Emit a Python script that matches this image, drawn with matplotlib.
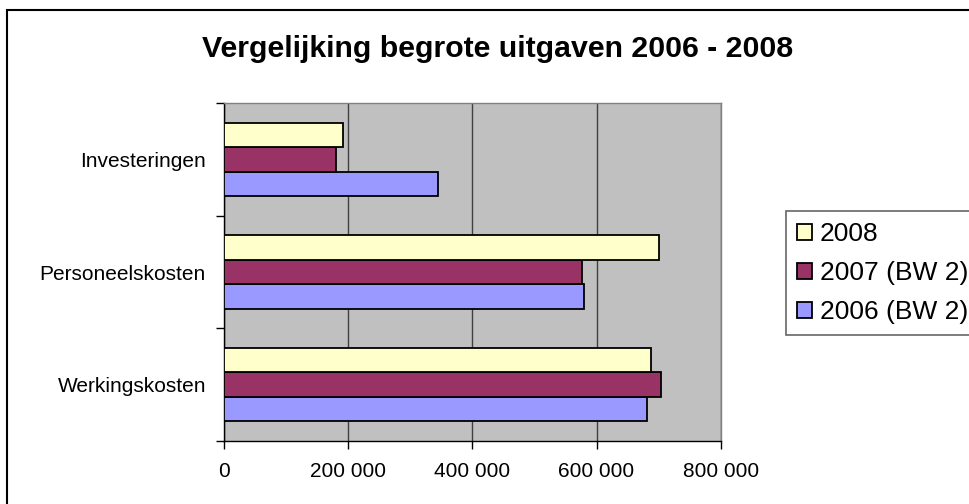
import numpy as np
import matplotlib
matplotlib.use('Agg')
import matplotlib.pyplot as plt
from matplotlib.patches import Rectangle
from matplotlib.ticker import FuncFormatter

categories = ['Werkingskosten', 'Personeelskosten', 'Investeringen']
series = ['2006 (BW 2)', '2007 (BW 2)', '2008']
v2006 = [681000, 580000, 345000]
v2007 = [704000, 576000, 180000]
v2008 = [687000, 701000, 191000]
colors = ['#9999FF', '#993366', '#FFFFCC']
xticks = [0, 200000, 400000, 600000, 800000]

plt.rcParams['font.family'] = ['Liberation Sans', 'DejaVu Sans']

fig = plt.figure(figsize=(9.7, 5.04), dpi=100)
ax = fig.add_axes([224/970, 1-441/504, (720.7-224)/970, (441-103)/504])
ax.set_facecolor('#C0C0C0')

y = np.arange(len(categories))
h = 0.217
for i, (vals, lab, c) in enumerate(zip([v2006, v2007, v2008], series, colors)):
    ax.barh(y + (i-1)*h, vals, height=h, color=c, edgecolor='black',
            linewidth=1.3, label=lab, zorder=3)

ax.set_xlim(0, 800000)
ax.set_ylim(-0.5, 2.5)
ax.set_xticks(xticks)
ax.xaxis.set_major_formatter(FuncFormatter(lambda v, p: '{:,.0f}'.format(v).replace(',', ' ')))
ax.set_yticks(y)
ax.set_yticklabels(categories)
ax.set_yticks([-0.5, 0.5, 1.5, 2.5], minor=True)
ax.tick_params(axis='y', which='major', length=0, pad=13, labelsize=15)
ax.tick_params(axis='y', which='minor', length=6, width=1, color='black')
ax.tick_params(axis='x', length=6, width=1, pad=9, labelsize=15)
ax.grid(axis='x', color='#404040', linewidth=1, zorder=0)
for s in ['top', 'right']:
    ax.spines[s].set_color('#808080')
    ax.spines[s].set_linewidth(1)
for s in ['left', 'bottom']:
    ax.spines[s].set_color('black')
    ax.spines[s].set_linewidth(1)

fig.text(498/970, 1-49/504, 'Vergelijking begrote uitgaven 2006 - 2008',
         ha='center', va='center', fontsize=21.8, fontweight='bold')

handles, labels = ax.get_legend_handles_labels()
leg = fig.legend(handles[::-1], labels[::-1], loc='upper left',
                 bbox_to_anchor=(786/970, 1-211/504), fontsize=19,
                 frameon=True, fancybox=False, handlelength=0.57, handleheight=0.57,
                 handletextpad=0.3, labelspacing=0.57, borderpad=0.42,
                 borderaxespad=0)
leg.get_frame().set_edgecolor('#404040')
leg.get_frame().set_linewidth(1.2)

fig.patches.append(Rectangle((7/970, -0.2), 1.2, 1.2-10/504, transform=fig.transFigure,
                             fill=False, edgecolor='black', linewidth=1.5, figure=fig))

fig.savefig('out.png', dpi=100)
